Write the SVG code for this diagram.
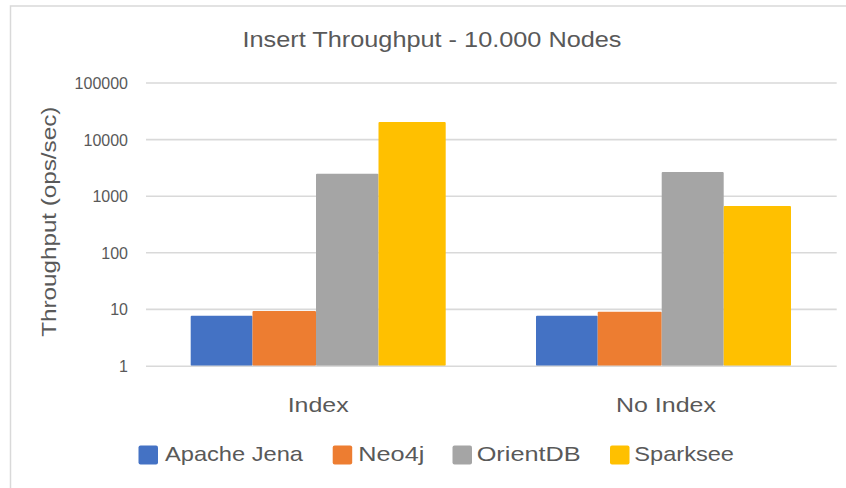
<svg xmlns="http://www.w3.org/2000/svg" width="846" height="488" viewBox="0 0 846 488">
<style>
text{font-family:"Liberation Sans",Arial,sans-serif;fill:#595959}
.grid{stroke:#D9D9D9;stroke-width:1.6}
.tick{font-size:16px;text-anchor:end}
.cat{font-size:21px;text-anchor:middle}
.leg{font-size:21px}
.b1{fill:#4472C4}.b2{fill:#ED7D31}.b3{fill:#A5A5A5}.b4{fill:#FFC000}
</style>
<rect x="0" y="0" width="846" height="488" fill="#FFFFFF"/>
<rect x="10.5" y="6" width="900" height="600" fill="none" stroke="#D9D9D9" stroke-width="1.5"/>
<g id="title"><text x="432" y="47" font-size="22" text-anchor="middle" textLength="379" lengthAdjust="spacingAndGlyphs">Insert Throughput - 10.000 Nodes</text></g>
<g id="grid">
<line class="grid" x1="146" y1="83" x2="836.7" y2="83"/>
<line class="grid" x1="146" y1="139.6" x2="836.7" y2="139.6"/>
<line class="grid" x1="146" y1="196.2" x2="836.7" y2="196.2"/>
<line class="grid" x1="146" y1="252.8" x2="836.7" y2="252.8"/>
<line class="grid" x1="146" y1="309.4" x2="836.7" y2="309.4"/>
</g>
<g id="yaxis">
<text class="tick" x="128" y="89">100000</text>
<text class="tick" x="128" y="145.6">10000</text>
<text class="tick" x="128" y="202.2">1000</text>
<text class="tick" x="128" y="258.8">100</text>
<text class="tick" x="128" y="315.4">10</text>
<text class="tick" x="128" y="372">1</text>
<text transform="translate(56,221.7) rotate(-90)" font-size="21" text-anchor="middle" textLength="230" lengthAdjust="spacingAndGlyphs">Throughput (ops/sec)</text>
</g>
<g id="bars-index">
<rect class="b1" x="190.7" y="315.7" width="61.8" height="50.3" rx="1"/>
<rect class="b2" x="252.5" y="311" width="63.5" height="55" rx="1"/>
<rect class="b3" x="316" y="173.7" width="62.5" height="192.3" rx="1"/>
<rect class="b4" x="378.5" y="122" width="67.2" height="244" rx="1"/>
</g>
<g id="bars-noindex">
<rect class="b1" x="536" y="315.7" width="61.7" height="50.3" rx="1"/>
<rect class="b2" x="597.7" y="311.7" width="64" height="54.3" rx="1"/>
<rect class="b3" x="661.7" y="172" width="62" height="194" rx="1"/>
<rect class="b4" x="723.7" y="206" width="67.3" height="160" rx="1"/>
</g>
<line class="grid" x1="146" y1="366.3" x2="836.7" y2="366.3"/>
<g id="xaxis">
<text class="cat" x="318.2" y="411.7" textLength="61" lengthAdjust="spacingAndGlyphs">Index</text>
<text class="cat" x="666" y="411.7" textLength="100" lengthAdjust="spacingAndGlyphs">No Index</text>
</g>
<g id="legend">
<rect class="b1" x="138.5" y="445.5" width="19.5" height="19" rx="2"/>
<text class="leg" x="165" y="461" textLength="138" lengthAdjust="spacingAndGlyphs">Apache Jena</text>
<rect class="b2" x="332.7" y="445.5" width="19.5" height="19" rx="2"/>
<text class="leg" x="358.3" y="461" textLength="66" lengthAdjust="spacingAndGlyphs">Neo4j</text>
<rect class="b3" x="452.5" y="445.5" width="19.5" height="19" rx="2"/>
<text class="leg" x="476.7" y="461" textLength="104" lengthAdjust="spacingAndGlyphs">OrientDB</text>
<rect class="b4" x="610" y="445.5" width="19.5" height="19" rx="2"/>
<text class="leg" x="634.3" y="461" textLength="99.7" lengthAdjust="spacingAndGlyphs">Sparksee</text>
</g>
</svg>
